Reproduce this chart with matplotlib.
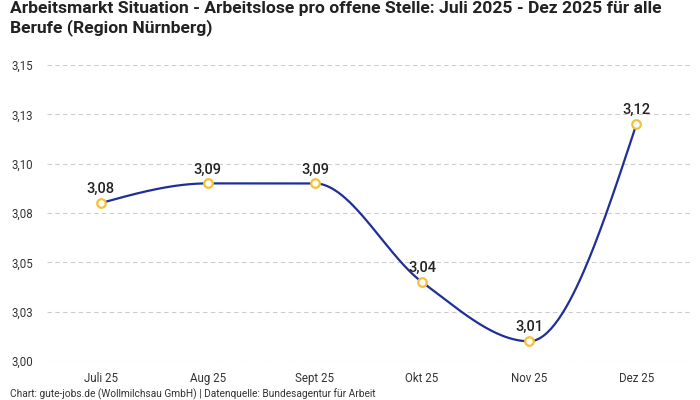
import numpy as np
import matplotlib
matplotlib.use("Agg")
import matplotlib.pyplot as plt

categories = ["Juli 25", "Aug 25", "Sept 25", "Okt 25", "Nov 25", "Dez 25"]
values = [3.08, 3.09, 3.09, 3.04, 3.01, 3.12]
value_labels = ["3,08", "3,09", "3,09", "3,04", "3,01", "3,12"]
yticks = [3.00, 3.025, 3.05, 3.075, 3.10, 3.125, 3.15]
ytick_labels = ["3,00", "3,03", "3,05", "3,08", "3,10", "3,13", "3,15"]

title = "Arbeitsmarkt Situation - Arbeitslose pro offene Stelle: Juli 2025 - Dez 2025 für alle\nBerufe (Region Nürnberg)"
source = "Chart: gute-jobs.de (Wollmilchsau GmbH) | Datenquelle: Bundesagentur für Arbeit"

plt.rcParams['font.family'] = ['Roboto', 'DejaVu Sans']

LINE = "#1f2f96"
MARK = "#f7c230"


def monotone_curve(x, y, n=60):
    x = np.asarray(x, float)
    y = np.asarray(y, float)
    m = len(x)
    h = np.diff(x)
    s = np.diff(y) / h
    t = np.zeros(m)
    for i in range(1, m - 1):
        h0, h1 = h[i - 1], h[i]
        s0, s1 = s[i - 1], s[i]
        p = (s0 * h1 + s1 * h0) / (h0 + h1)
        t[i] = (np.sign(s0) + np.sign(s1)) * min(abs(s0), abs(s1), 0.5 * abs(p))
    t[0] = (3 * s[0] - t[1]) / 2
    t[-1] = (3 * s[-1] - t[-2]) / 2
    xs, ys = [], []
    for i in range(m - 1):
        u = np.linspace(0, 1, n)
        dx = h[i]
        p0 = np.array([x[i], y[i]])
        p3 = np.array([x[i + 1], y[i + 1]])
        p1 = np.array([x[i] + dx / 3, y[i] + dx * t[i] / 3])
        p2 = np.array([x[i + 1] - dx / 3, y[i + 1] - dx * t[i + 1] / 3])
        b = ((1 - u) ** 3)[:, None] * p0 + (3 * (1 - u) ** 2 * u)[:, None] * p1 \
            + (3 * (1 - u) * u ** 2)[:, None] * p2 + (u ** 3)[:, None] * p3
        xs.extend(b[:, 0])
        ys.extend(b[:, 1])
    return np.array(xs), np.array(ys)


fig = plt.figure(figsize=(7, 4), dpi=100)
ax = fig.add_axes([47 / 700, 1 - 361 / 400, (690 - 47) / 700, (361 - 65) / 400])

xpos = np.arange(len(categories))
cx, cy = monotone_curve(xpos, values)
ax.plot(cx, cy, color=LINE, lw=1.6, zorder=3, solid_capstyle='round')
ax.scatter(xpos, values, s=38, facecolor="white", edgecolor=MARK, linewidths=1.6, zorder=4)

for xi, v, lab in zip(xpos, values, value_labels):
    ax.annotate(lab, (xi, v), xytext=(0, 5), textcoords="offset points",
                ha="center", va="bottom", fontsize=10.5, fontweight="medium",
                color="#222222", zorder=5)

ax.set_xlim(-0.5, len(categories) - 0.5)
ax.set_ylim(3.0, 3.15)
ax.set_yticks(yticks)
ax.set_yticklabels(ytick_labels)
ax.set_xticks(xpos)
ax.set_xticklabels(categories)
ax.tick_params(axis='y', length=0, pad=10, labelsize=8.3, labelcolor="#333333")
ax.tick_params(axis='x', length=0, pad=8, labelsize=8.3, labelcolor="#333333")
for sp in ax.spines.values():
    sp.set_visible(False)
ax.grid(axis='y', color="#cccccc", linestyle=(0, (4, 3)), lw=0.8)
ax.set_axisbelow(True)

fig.text(10 / 700, 1 - 1 / 400, title, ha="left", va="top", fontsize=12.6,
         fontweight="bold", color="#222222", linespacing=1.25)
fig.text(10 / 700, 1 - 394 / 400, source, ha="left", va="center", fontsize=7.3, color="#333333")

fig.savefig("out.png", dpi=100)
